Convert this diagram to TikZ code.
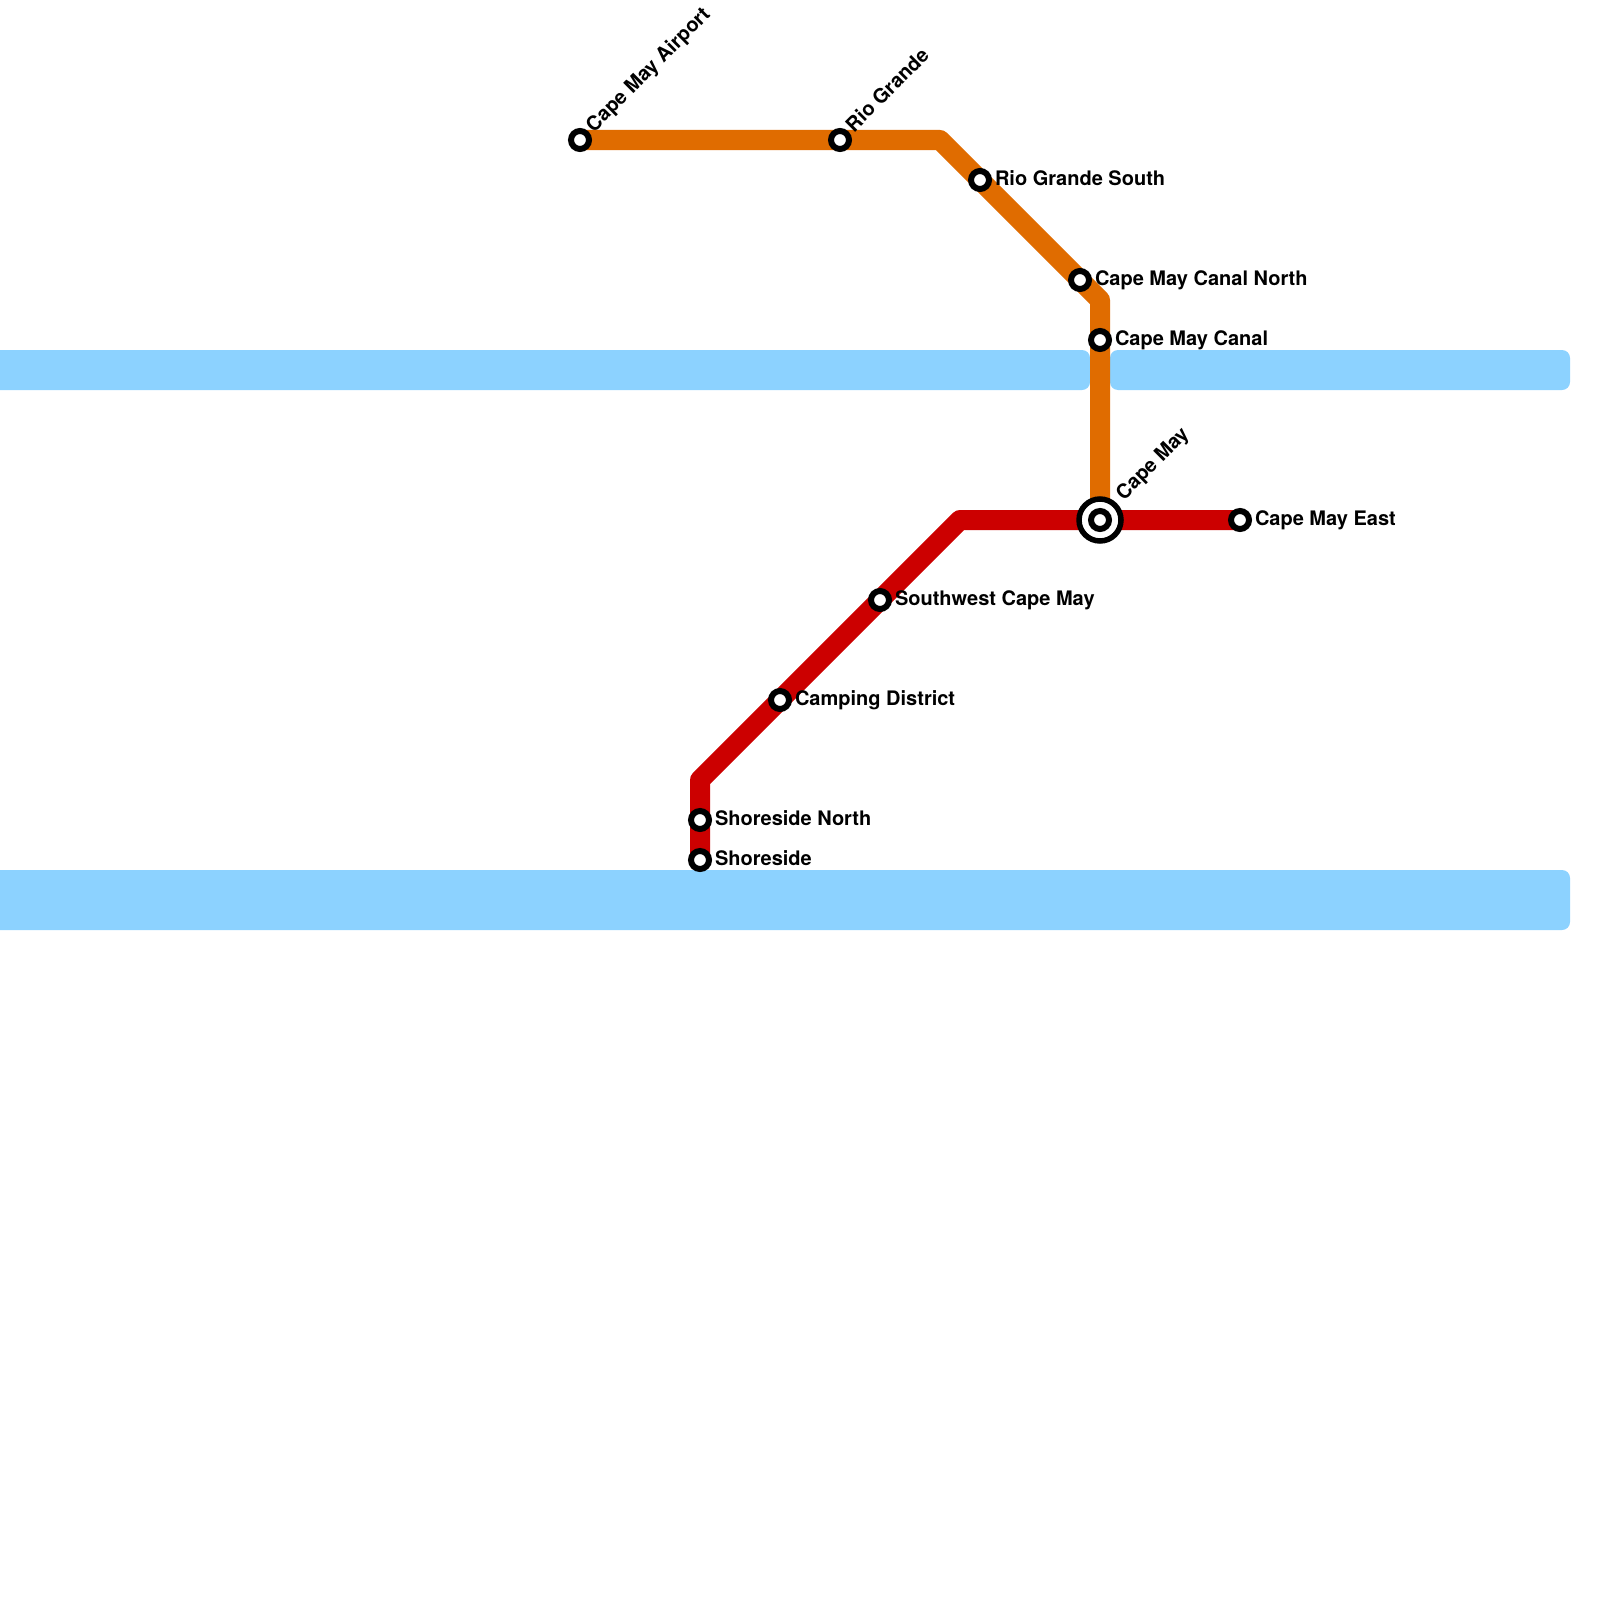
\documentclass[tikz,border=0pt]{standalone}
\usepackage{fontspec}
\setmainfont{TeX Gyre Heros}
\usetikzlibrary{backgrounds}
\definecolor{waterc}{HTML}{8CD2FF}
\definecolor{orangec}{HTML}{E06C00}
\definecolor{redc}{HTML}{CC0000}
\tikzset{
  x=1pt,y=-1pt,
  stationdot/.style={circle,draw=black,fill=white,line width=6pt,minimum size=18pt,inner sep=0pt,outer sep=0pt},
  interring/.style={circle,draw=black,fill=white,line width=5.5pt,minimum size=42pt,inner sep=0pt,outer sep=0pt},
  stationlabel/.style={font=\bfseries\fontsize{20}{22}\selectfont,text=black,inner sep=0pt,outer sep=0pt,anchor=base west},
  tiltlabel/.style={stationlabel,rotate=45},
  route/.style={line width=20pt,line join=round,line cap=butt},
  water/.style={fill=waterc,draw=none,rounded corners=8pt}
}
\begin{document}
\begin{tikzpicture}
\useasboundingbox (0,0) rectangle (1600,1600);
% bends
\coordinate (bendA) at (940,140);
\coordinate (bendB) at (1100,300);
\coordinate (bendC) at (960,520);
\coordinate (bendD) at (700,780);
% stations
\node[stationdot] (airport) at (580,140) {};
\node[stationdot] (rio) at (840,140) {};
\node[stationdot] (riosouth) at (980,180) {};
\node[stationdot] (canalnorth) at (1080,280) {};
\node[stationdot] (canal) at (1100,340) {};
\node[interring] (capemayring) at (1100,520) {};
\node[stationdot] (capemay) at (1100,520) {};
\node[stationdot] (east) at (1240,520) {};
\node[stationdot] (southwest) at (880,600) {};
\node[stationdot] (camping) at (780,700) {};
\node[stationdot] (shorenorth) at (700,820) {};
\node[stationdot] (shore) at (700,860) {};
% labels
\node[tiltlabel] (lairport) at (594,133) {Cape May Airport};
\node[tiltlabel] (lrio) at (854,133) {Rio Grande};
\node[stationlabel] (lriosouth) at (995,185) {Rio Grande South};
\node[stationlabel] (lcanalnorth) at (1095,285) {Cape May Canal North};
\node[stationlabel] (lcanal) at (1115,345) {Cape May Canal};
\node[tiltlabel] (lcapemay) at (1124,501) {Cape May};
\node[stationlabel] (least) at (1255,525) {Cape May East};
\node[stationlabel] (lsouthwest) at (895,605) {Southwest Cape May};
\node[stationlabel] (lcamping) at (795,705) {Camping District};
\node[stationlabel] (lshorenorth) at (715,825) {Shoreside North};
\node[stationlabel] (lshore) at (715,865) {Shoreside};
\begin{pgfonlayer}{background}
  \fill[white] (0,0) rectangle (1600,1600);
  \begin{scope}
    \clip (0,0) rectangle (1600,1600);
    \fill[water] (-20,350) rectangle (1090,390);
    \fill[water] (1110,350) rectangle (1570,390);
    \fill[water] (-20,870) rectangle (1570,930);
  \end{scope}
  \draw[route,orangec] (airport.center) -- (rio.center) -- (bendA) -- (riosouth.center) -- (canalnorth.center) -- (bendB) -- (canal.center) -- (capemay.center);
  \draw[route,redc] (east.center) -- (capemay.center) -- (bendC) -- (southwest.center) -- (camping.center) -- (bendD) -- (shorenorth.center) -- (shore.center);
\end{pgfonlayer}
\end{tikzpicture}
\end{document}
